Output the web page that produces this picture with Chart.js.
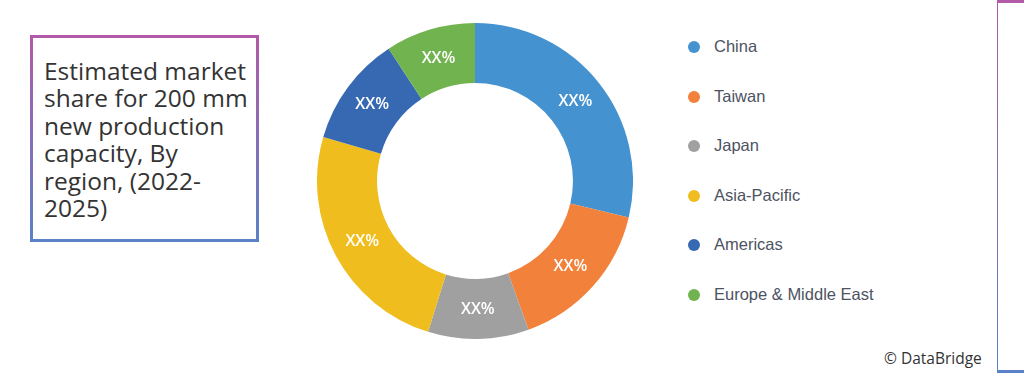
<!DOCTYPE html>
<html>
<head>
<meta charset="utf-8">
<script src="https://cdn.jsdelivr.net/npm/chart.js@4"></script>
<style>
  html, body { margin: 0; padding: 0; background: #fff; }
  #page { position: relative; width: 1024px; height: 375px; overflow: hidden; background: #fff; }
  .gbox { position: absolute; box-sizing: border-box; border: 3px solid transparent;
    background: linear-gradient(#fff, #fff) padding-box, linear-gradient(#b25aa7, #5a82c6) border-box; }
  #titleBox { left: 30px; top: 35px; width: 229px; height: 207px; }
  #titleText { position: absolute; left: 11px; top: 19px; font-family: "Open Sans", sans-serif;
    font-size: 24.5px; line-height: 27.4px; color: #333; letter-spacing: 0; }
  #sideBox { left: 997px; top: 0; width: 60px; height: 373px; border-width: 3px 3px 3px 1px; }
  #chartWrap { position: absolute; left: 317px; top: 23px; width: 316px; height: 316px; }
  #legend { position: absolute; left: 686px; top: 37px; font-family: "Liberation Sans", Arial, sans-serif;
    font-size: 16.5px; color: #4d5362; }
  .li { height: 49.6px; display: flex; align-items: flex-start; }
  .dot { width: 12px; height: 12px; border-radius: 50%; margin: 4px 14px 0 2px; }
  #credit { position: absolute; left: 884px; top: 347px; font-family: "Open Sans", sans-serif;
    font-size: 15.5px; color: #333; }
</style>
</head>
<body>
<div id="page">
  <div id="titleBox" class="gbox">
    <div id="titleText">Estimated market<br>share for 200 mm<br>new production<br>capacity, By<br>region, (2022-<br>2025)</div>
  </div>
  <div id="sideBox" class="gbox"></div>
  <div id="chartWrap"><canvas id="donut" width="316" height="316"></canvas></div>
  <div id="legend"></div>
  <div id="credit">© DataBridge</div>
</div>
<script>
const regions = ["China", "Taiwan", "Japan", "Asia-Pacific", "Americas", "Europe & Middle East"];
const shares = [28.7, 15.8, 10.3, 24.7, 11.3, 9.2];
const sliceLabels = ["XX%", "XX%", "XX%", "XX%", "XX%", "XX%"];
const regionColors = ["#4492cf", "#f1813b", "#a0a0a0", "#f0bd1f", "#3768b2", "#70b34f"];

// html legend built from the same arrays
document.getElementById("legend").innerHTML = regions.map((r, i) =>
  `<div class="li"><span class="dot" style="background:${regionColors[i]}"></span><span>${r}</span></div>`
).join("");

const sliceText = {
  id: "sliceText",
  afterDatasetsDraw(chart) {
    const { ctx } = chart;
    const meta = chart.getDatasetMeta(0);
    ctx.save();
    ctx.fillStyle = "#fff";
    ctx.font = "600 16px 'Open Sans', sans-serif";
    ctx.textAlign = "center";
    ctx.textBaseline = "middle";
    meta.data.forEach((arc, i) => {
      const p = arc.tooltipPosition();
      ctx.fillText(sliceLabels[i], p.x, p.y);
    });
    ctx.restore();
  }
};

new Chart(document.getElementById("donut"), {
  type: "doughnut",
  data: {
    labels: regions,
    datasets: [{
      data: shares,
      backgroundColor: regionColors,
      borderWidth: 0
    }]
  },
  options: {
    responsive: false,
    animation: false,
    cutout: "62%",
    layout: { padding: 0 },
    plugins: { legend: { display: false }, tooltip: { enabled: false } }
  },
  plugins: [sliceText]
});
</script>
</body>
</html>
